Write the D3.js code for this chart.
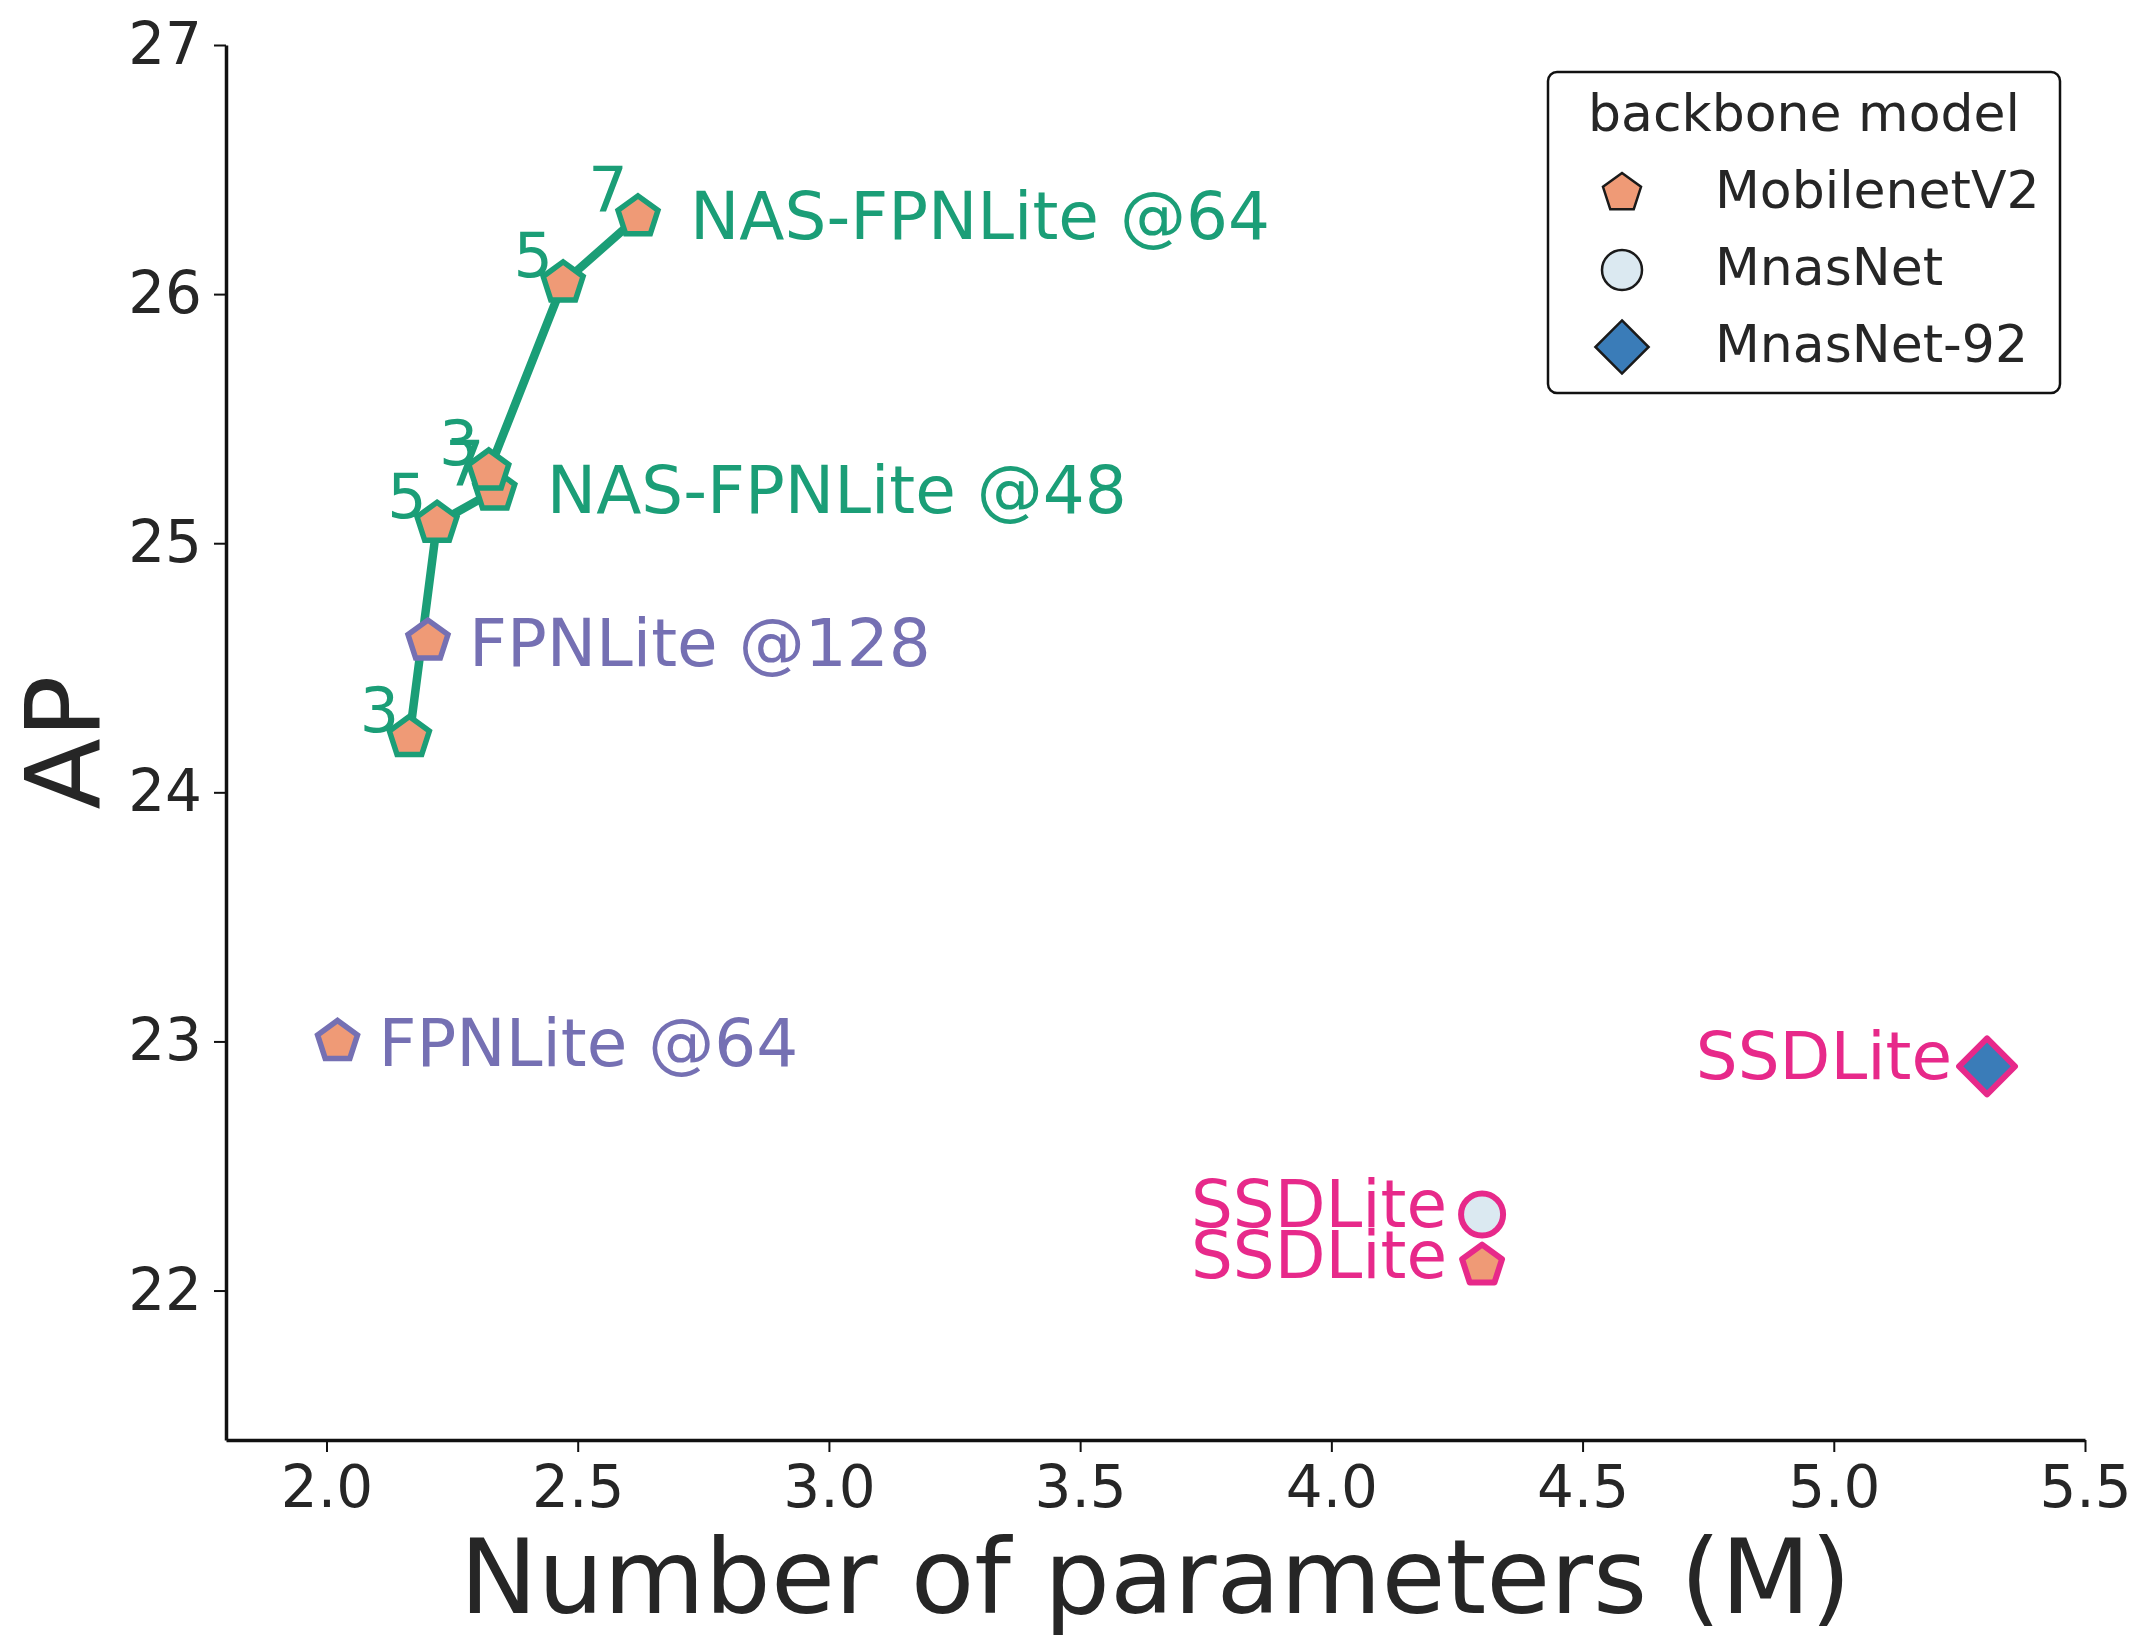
<!DOCTYPE html>
<html>
<head>
<meta charset="utf-8">
<script src="https://cdn.jsdelivr.net/npm/d3@7"></script>
<style>
  body { margin: 0; background: #fff; }
  text { font-family: "DejaVu Sans", sans-serif; }
</style>
</head>
<body>
<div id="chart"></div>
<script>
// NAS-FPNLite heads, kernel sizes 3 / 5 / 7 (MobilenetV2 backbone)
const kernelSizes = ["3", "5", "7"]
const nas48Params = [2.165, 2.22, 2.335]
const nas48AP = [24.22, 25.08, 25.21]
const nas64Params = [2.323, 2.471, 2.62]
const nas64AP = [25.29, 26.045, 26.31]

// FPNLite heads (MobilenetV2 backbone)
const fpnNames = ["FPNLite @64", "FPNLite @128"]
const fpnParams = [2.022, 2.202]
const fpnAP = [23.0, 24.607]

// SSDLite head with three backbones
const ssdBackbones = ["MobilenetV2", "MnasNet", "MnasNet-92"]
const ssdParams = [4.30, 4.30, 5.305]
const ssdAP = [22.10, 22.305, 22.9]

const backbones = ["MobilenetV2", "MnasNet", "MnasNet-92"]
const xTicks = [2.0, 2.5, 3.0, 3.5, 4.0, 4.5, 5.0, 5.5]
const yTicks = [22, 23, 24, 25, 26, 27]

const W = 2152, H = 1648
const GREEN = "#1b9e77", PURPLE = "#7570b3", PINK = "#e7298a", INK = "#262626"

const svg = d3.select("#chart").append("svg")
  .attr("width", W)
  .attr("height", H)
  .style("background", "#fff")

const x = d3.scaleLinear().domain([1.8, 5.5]).range([226, 2085])
const y = d3.scaleLinear().domain([21.4, 27]).range([1440, 45])

const fill = d3.scaleOrdinal().domain(backbones).range(["#ef9a76", "#dbe9f1", "#3a7cb8"])
const shape = d3.scaleOrdinal().domain(backbones).range(["pentagon", "circle", "diamond"])

function markerPath(kind, r) {
  if (kind === "pentagon") {
    const pts = d3.range(5).map(k => {
      const a = -Math.PI / 2 + k * 2 * Math.PI / 5
      return [r * Math.cos(a), r * Math.sin(a)]
    })
    return "M" + pts.join("L") + "Z"
  }
  if (kind === "diamond") {
    const h = r * 1.33
    return `M0,${-h}L${h},0L0,${h}L${-h},0Z`
  }
  return d3.symbol(d3.symbolCircle, Math.PI * r * r)()
}

// axes
const xAxis = svg.append("g")
  .attr("transform", `translate(0,${y.range()[0]})`)
  .call(d3.axisBottom(x).tickValues(xTicks).tickFormat(d3.format(".1f"))
    .tickSize(12).tickSizeOuter(0).tickPadding(14))
const yAxis = svg.append("g")
  .attr("transform", `translate(${x.range()[0]},0)`)
  .call(d3.axisLeft(y).tickValues(yTicks).tickFormat(d3.format("d"))
    .tickSize(12).tickSizeOuter(0).tickPadding(12))

for (const g of [xAxis, yAxis]) {
  g.select(".domain").attr("stroke", "#111").attr("stroke-width", 3.5)
  g.selectAll(".tick line").attr("stroke", "#111").attr("stroke-width", 2)
  g.selectAll(".tick text")
    .attr("fill", INK)
    .style("font-family", "'DejaVu Sans', sans-serif")
    .style("font-size", "58px")
}

svg.append("text")
  .attr("x", (x.range()[0] + x.range()[1]) / 2)
  .attr("y", 1613)
  .attr("text-anchor", "middle")
  .attr("fill", INK)
  .style("font-size", "104px")
  .text("Number of parameters (M)")

svg.append("text")
  .attr("transform", `translate(99,${(y.range()[0] + y.range()[1]) / 2}) rotate(-90)`)
  .attr("text-anchor", "middle")
  .attr("fill", INK)
  .style("font-size", "104px")
  .text("AP")

// NAS-FPNLite series
const nasSeries = [
  { name: "NAS-FPNLite @48", params: nas48Params, ap: nas48AP },
  { name: "NAS-FPNLite @64", params: nas64Params, ap: nas64AP }
].map(s => ({ ...s, pts: s.params.map((p, i) => ({ p, ap: s.ap[i], k: kernelSizes[i] })) }))

const line = d3.line().x(d => x(d.p)).y(d => y(d.ap))
const plot = svg.append("g")

plot.selectAll("path.nas-line")
  .data(nasSeries)
  .join("path")
  .attr("class", "nas-line")
  .attr("d", d => line(d.pts))
  .attr("fill", "none")
  .attr("stroke", GREEN)
  .attr("stroke-width", 8.5)
  .attr("stroke-linejoin", "round")

const R = 21

// FPNLite points
const fpnPts = fpnNames.map((n, i) => ({ name: n, p: fpnParams[i], ap: fpnAP[i] }))
plot.selectAll("path.fpn")
  .data(fpnPts)
  .join("path")
  .attr("class", "fpn")
  .attr("transform", d => `translate(${x(d.p)},${y(d.ap)})`)
  .attr("d", markerPath("pentagon", R))
  .attr("fill", fill("MobilenetV2"))
  .attr("stroke", PURPLE)
  .attr("stroke-width", 5.5)

nasSeries.forEach(s => {
  plot.append("g").selectAll("path")
    .data(s.pts)
    .join("path")
    .attr("transform", d => `translate(${x(d.p)},${y(d.ap)})`)
    .attr("d", markerPath("pentagon", R))
    .attr("fill", fill("MobilenetV2"))
    .attr("stroke", GREEN)
    .attr("stroke-width", 5.5)
})

// SSDLite points
const ssdPts = ssdBackbones.map((b, i) => ({ b, p: ssdParams[i], ap: ssdAP[i] }))
plot.selectAll("path.ssd")
  .data(ssdPts)
  .join("path")
  .attr("class", "ssd")
  .attr("transform", d => `translate(${x(d.p)},${y(d.ap)})`)
  .attr("d", d => markerPath(shape(d.b), R))
  .attr("fill", d => fill(d.b))
  .attr("stroke", PINK)
  .attr("stroke-width", 6)
  .attr("stroke-linejoin", "round")

// labels
const labels = svg.append("g")

nasSeries.forEach(s => {
  const last = s.pts[s.pts.length - 1]
  labels.append("text")
    .attr("x", x(last.p) + 52)
    .attr("y", y(last.ap))
    .attr("dominant-baseline", "central")
    .attr("fill", GREEN)
    .style("font-size", "66px")
    .text(s.name)

  labels.append("g").selectAll("text")
    .data(s.pts)
    .join("text")
    .attr("x", d => x(d.p) - 30)
    .attr("y", d => y(d.ap) - 27)
    .attr("text-anchor", "middle")
    .attr("dominant-baseline", "central")
    .attr("fill", GREEN)
    .style("font-size", "62px")
    .text(d => d.k)
})

labels.selectAll("text.fpn")
  .data(fpnPts)
  .join("text")
  .attr("class", "fpn")
  .attr("x", d => x(d.p) + 41)
  .attr("y", d => y(d.ap) + 2)
  .attr("dominant-baseline", "central")
  .attr("fill", PURPLE)
  .style("font-size", "66px")
  .text(d => d.name)

labels.selectAll("text.ssd")
  .data(ssdPts)
  .join("text")
  .attr("class", "ssd")
  .attr("x", d => x(d.p) - 35)
  .attr("y", d => y(d.ap) - 10)
  .attr("text-anchor", "end")
  .attr("dominant-baseline", "central")
  .attr("fill", PINK)
  .style("font-size", "66px")
  .text("SSDLite")

// legend
const legend = svg.append("g")
legend.append("rect")
  .attr("x", 1548).attr("y", 72)
  .attr("width", 512).attr("height", 321)
  .attr("rx", 9)
  .attr("fill", "#fff")
  .attr("stroke", "#111")
  .attr("stroke-width", 2.5)

legend.append("text")
  .attr("x", 1804).attr("y", 131)
  .attr("text-anchor", "middle")
  .attr("fill", INK)
  .style("font-size", "52px")
  .text("backbone model")

const item = legend.selectAll("g.item")
  .data(backbones)
  .join("g")
  .attr("class", "item")
  .attr("transform", (d, i) => `translate(1622,${193 + i * 77})`)

item.append("path")
  .attr("d", d => markerPath(shape(d), 20))
  .attr("fill", d => fill(d))
  .attr("stroke", "#1a1a1a")
  .attr("stroke-width", 2.5)

item.append("text")
  .attr("x", 93)
  .attr("y", 15)
  .attr("fill", INK)
  .style("font-size", "52px")
  .text(d => d)
</script>
</body>
</html>
